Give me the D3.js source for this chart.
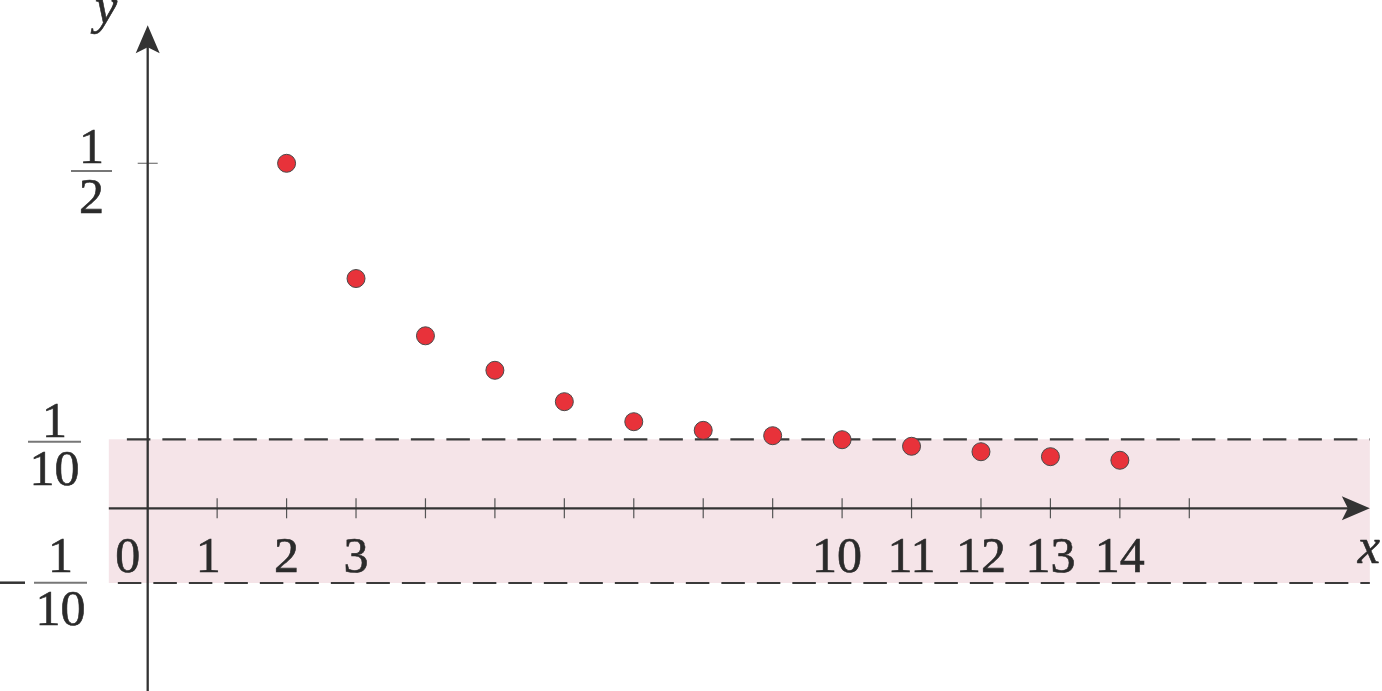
<!DOCTYPE html>
<html>
<head>
<meta charset="utf-8">
<script src="https://cdn.jsdelivr.net/npm/d3@7/dist/d3.min.js"></script>
<style>
  html, body { margin: 0; padding: 0; background: #fff; }
  svg { display: block; }
</style>
</head>
<body>
<svg id="chart" width="1382" height="691"></svg>
<script>
// ---- data ----
const nValues = [2, 3, 4, 5, 6, 7, 8, 9, 10, 11, 12, 13, 14];
const seqValues = [0.5, 0.333, 0.25, 0.2, 0.1545, 0.1255, 0.113, 0.1052, 0.0994, 0.0899, 0.082, 0.0748, 0.0696];
const xTickValues = [1, 2, 3, 4, 5, 6, 7, 8, 9, 10, 11, 12, 13, 14, 15];
const xLabelValues = [0, 1, 2, 3, 10, 11, 12, 13, 14];
const xLabelTexts = ["0", "1", "2", "3", "10", "11", "12", "13", "14"];
const yTickValues = [0.5];
const yLabelValues = [0.5, 0.1, -0.1];
const yLabelSigns = ["", "", "\u2212"];
const yLabelNums = ["1", "1", "1"];
const yLabelDens = ["2", "10", "10"];
const bandValues = [-0.1, 0.1];
const xExtent = [-0.56, 17.6];
const yExtent = [-0.245, 0.7];

// ---- layout ----
const FONT = "'Liberation Serif', 'DejaVu Serif', 'Times New Roman', serif";
const TEXT_COLOR = "#2b2b2b";
const svg = d3.select("#chart");
const x = d3.scaleLinear().domain([0, 15]).range([147.7, 1189.3]);
const y = d3.scaleLinear().domain([-0.1, 0, 0.5]).range([583, 508.3, 163.3]);
const axisColor = "#333";
const fontSize = 50;
const xLabelShift = { 0: -20, 1: -9, 10: -5 };

function styleText(sel) {
  return sel.attr("font-family", FONT).attr("fill", TEXT_COLOR).attr("font-size", fontSize)
    .attr("stroke", TEXT_COLOR).attr("stroke-width", 0.6);
}

// pink band
svg.append("rect")
  .attr("x", x(xExtent[0]))
  .attr("y", y(bandValues[1]))
  .attr("width", x(xExtent[1]) - x(xExtent[0]))
  .attr("height", y(bandValues[0]) - y(bandValues[1]))
  .attr("fill", "#f5e4e8");

// dashed lines
const dashStart = [x(-0.43), x(-0.3)];
svg.selectAll("line.dash").data(bandValues).join("line")
  .attr("class", "dash")
  .attr("x1", (d, i) => dashStart[i])
  .attr("x2", x(xExtent[1]))
  .attr("y1", d => y(d)).attr("y2", d => y(d))
  .attr("stroke", "#3a3a3a")
  .attr("stroke-width", 2.2)
  .attr("stroke-dasharray", "23.5 12");

// x ticks
svg.selectAll("line.xtick").data(xTickValues).join("line")
  .attr("class", "xtick")
  .attr("x1", d => x(d)).attr("x2", d => x(d))
  .attr("y1", y(0) - 10).attr("y2", y(0) + 10)
  .attr("stroke", "#555").attr("stroke-width", 1.2);

// y ticks
svg.selectAll("line.ytick").data(yTickValues).join("line")
  .attr("class", "ytick")
  .attr("x1", x(0) - 10).attr("x2", x(0) + 10)
  .attr("y1", d => y(d)).attr("y2", d => y(d))
  .attr("stroke", "#777").attr("stroke-width", 1.2);

// axes lines
svg.append("line")
  .attr("x1", x(xExtent[0])).attr("x2", x(xExtent[1]) - 20)
  .attr("y1", y(0)).attr("y2", y(0))
  .attr("stroke", axisColor).attr("stroke-width", 2.3);
svg.append("line")
  .attr("x1", x(0)).attr("x2", x(0))
  .attr("y1", y(yExtent[0])).attr("y2", y(yExtent[1]) + 20)
  .attr("stroke", axisColor).attr("stroke-width", 2.3);

// arrowheads
const xt = x(xExtent[1]), yt = y(0);
svg.append("path")
  .attr("d", `M${xt},${yt} L${xt - 28},${yt - 12} L${xt - 22},${yt} L${xt - 28},${yt + 12} Z`)
  .attr("fill", axisColor);
const ax = x(0), ay = y(yExtent[1]);
svg.append("path")
  .attr("d", `M${ax},${ay} L${ax - 12},${ay + 28} L${ax},${ay + 22} L${ax + 12},${ay + 28} Z`)
  .attr("fill", axisColor);

// x labels
styleText(svg.selectAll("text.xlab").data(xLabelValues).join("text"))
  .attr("class", "xlab")
  .attr("x", d => x(d) + (xLabelShift[d] || 0))
  .attr("y", 572)
  .attr("text-anchor", "middle")
  .text((d, i) => xLabelTexts[i]);

// axis titles
styleText(svg.append("text")).attr("x", x(xExtent[1]) - 1).attr("y", 563)
  .attr("text-anchor", "middle").attr("font-style", "italic").text("x");
styleText(svg.append("text")).attr("x", 106).attr("y", 23)
  .attr("text-anchor", "middle").attr("font-style", "italic").text("y");

// y fraction labels
const fracLayout = [
  { cx: 91.5, barDy: 7.7, w: 41, numDy: -8, denDy: 42 },
  { cx: 54.5, barDy: 2.4, w: 53, numDy: -5, denDy: 43 },
  { cx: 60.5, barDy: -0.3, w: 53, numDy: -11, denDy: 42 }
];
const fr = svg.selectAll("g.frac").data(yLabelValues).join("g")
  .attr("class", "frac")
  .attr("transform", (d, i) => `translate(${fracLayout[i].cx},${y(d) + fracLayout[i].barDy})`);
fr.append("line")
  .attr("x1", (d, i) => -fracLayout[i].w / 2).attr("x2", (d, i) => fracLayout[i].w / 2)
  .attr("y1", 0).attr("y2", 0)
  .attr("stroke", "#777").attr("stroke-width", 2);
styleText(fr.append("text"))
  .attr("x", 0).attr("y", (d, i) => fracLayout[i].numDy)
  .attr("text-anchor", "middle")
  .text((d, i) => yLabelNums[i]);
styleText(fr.append("text"))
  .attr("x", 0).attr("y", (d, i) => fracLayout[i].denDy)
  .attr("text-anchor", "middle")
  .text((d, i) => yLabelDens[i]);
fr.filter((d, i) => yLabelSigns[i] !== "").append("line")
  .attr("x1", -60.5).attr("x2", -35.5)
  .attr("y1", 0).attr("y2", 0)
  .attr("stroke", "#333").attr("stroke-width", 2.5);

// points
svg.selectAll("circle.pt").data(nValues).join("circle")
  .attr("class", "pt")
  .attr("cx", d => x(d))
  .attr("cy", (d, i) => y(seqValues[i]))
  .attr("r", 9)
  .attr("fill", "#e8323a")
  .attr("stroke", "#4a4a4a")
  .attr("stroke-width", 1);
</script>
</body>
</html>
